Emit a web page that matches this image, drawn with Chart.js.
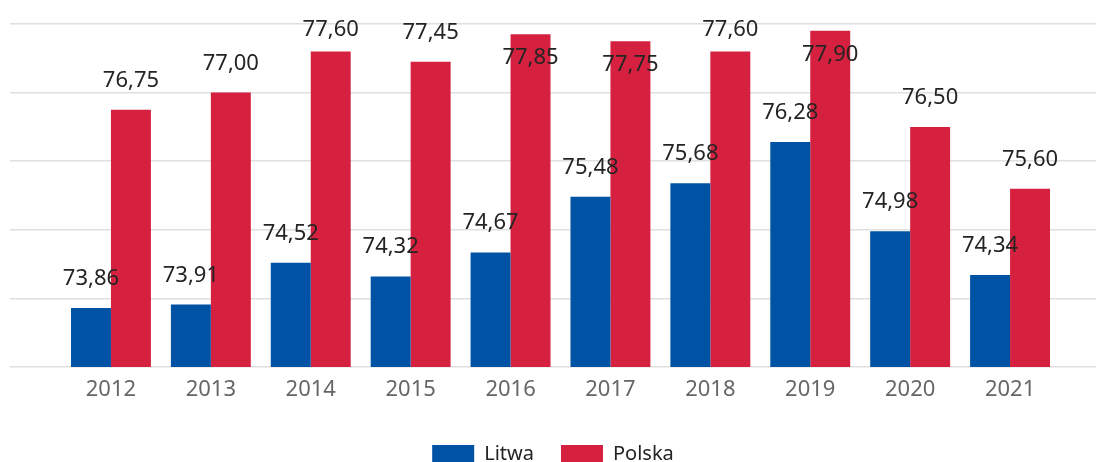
<!DOCTYPE html>
<html>
<head>
<meta charset="utf-8">
<script src="https://cdn.jsdelivr.net/npm/chart.js@4"></script>
<style>
  html, body { margin: 0; padding: 0; background: #fff; overflow: hidden; }
  #wrap { width: 1096px; height: 480px; }
</style>
</head>
<body>
<div id="wrap"><canvas id="chart"></canvas></div>
<script>
// Chart data
const years = ['2012', '2013', '2014', '2015', '2016', '2017', '2018', '2019', '2020', '2021'];
const litwa = [73.86, 73.91, 74.52, 74.32, 74.67, 75.48, 75.68, 76.28, 74.98, 74.34];
const polska = [76.75, 77.00, 77.60, 77.45, 77.85, 77.75, 77.60, 77.90, 76.50, 75.60];
const yMin = 73;
const yMax = 78;

const FONT = '"Noto Sans", "Open Sans", sans-serif';

// Draws the value above each bar, or just inside the top when there is no room
const valueLabels = {
    id: 'valueLabels',
    afterDatasetsDraw(chart) {
        const ctx = chart.ctx;
        ctx.save();
        ctx.font = '22px ' + FONT;
        ctx.fillStyle = '#252423';
        ctx.textAlign = 'center';
        ctx.textBaseline = 'alphabetic';
        chart.data.datasets.forEach((ds, i) => {
            chart.getDatasetMeta(i).data.forEach((bar, j) => {
                const text = ds.data[j].toFixed(2).replace('.', ',');
                let y = Math.max(bar.y - 23, 36);
                if (bar.y - y < 10) {
                    y = bar.y + 30;
                }
                ctx.fillText(text, bar.x, y);
            });
        });
        ctx.restore();
    }
};

const ctx = document.getElementById('chart').getContext('2d');
new Chart(ctx, {
    type: 'bar',
    data: {
        labels: years,
        datasets: [
            {
                label: 'Litwa',
                data: litwa,
                backgroundColor: '#0052a5',
                borderWidth: 0
            },
            {
                label: 'Polska',
                data: polska,
                backgroundColor: '#d5213f',
                borderWidth: 0
            }
        ]
    },
    options: {
        responsive: true,
        maintainAspectRatio: false,
        animation: false,
        layout: {
            padding: { top: 24, left: 10, right: 0, bottom: 6 }
        },
        datasets: {
            bar: {
                categoryPercentage: 0.8,
                barPercentage: 1.0
            }
        },
        scales: {
            x: {
                grid: { display: false, drawTicks: false },
                border: { display: false },
                ticks: {
                    color: '#666666',
                    padding: 10,
                    font: { family: FONT, size: 22 }
                },
                afterFit(scale) {
                    scale.height = 50;
                }
            },
            y: {
                position: 'left',
                min: yMin,
                max: yMax,
                ticks: { display: false, stepSize: 1 },
                border: { display: false },
                grid: {
                    color: '#e0e0e0',
                    lineWidth: 1.5,
                    drawTicks: true,
                    tickLength: 51
                }
            },
            y2: {
                position: 'right',
                min: yMin,
                max: yMax,
                ticks: { display: false, stepSize: 1 },
                border: { display: false },
                grid: {
                    color: '#e0e0e0',
                    lineWidth: 1.5,
                    drawOnChartArea: false,
                    drawTicks: true,
                    tickLength: 36
                }
            }
        },
        plugins: {
            legend: {
                position: 'bottom',
                labels: {
                    boxWidth: 42,
                    boxHeight: 18,
                    padding: 27,
                    color: '#252423',
                    font: { family: FONT, size: 20 }
                }
            },
            tooltip: { enabled: false }
        }
    },
    plugins: [valueLabels]
});
</script>
</body>
</html>
